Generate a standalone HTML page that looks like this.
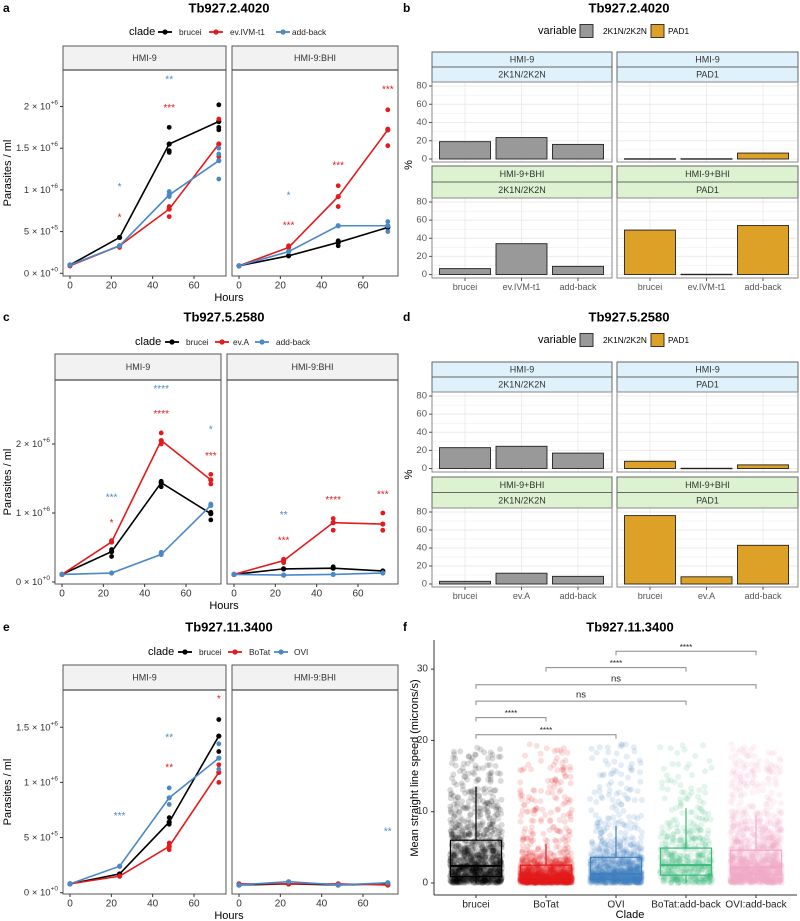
<!DOCTYPE html>
<html><head><meta charset="utf-8"><style>
html,body{margin:0;padding:0;background:#fff;}
svg{display:block;font-family:"Liberation Sans",Arial,sans-serif;}
</style></head><body>
<svg id="fig" width="800" height="921" viewBox="0 0 800 921" xmlns="http://www.w3.org/2000/svg"></svg>
<script>
// ---------- DATA ----------
const times=[0,24,48,72];
// panel a (values ×1e6)
const aHmi9Brucei=[0.10,0.43,1.55,1.82];
const aHmi9Ev=[0.09,0.33,0.77,1.55];
const aHmi9Add=[0.10,0.33,0.94,1.35];
const aBhiBrucei=[0.09,0.21,0.37,0.55];
const aBhiEv=[0.09,0.31,0.92,1.72];
const aBhiAdd=[0.09,0.26,0.57,0.57];
const aHmi9BruceiReps=[[24,0.43],[48,1.75],[48,1.45],[48,1.47],[72,2.02],[72,1.75],[72,1.72]];
const aHmi9EvReps=[[24,0.31],[48,0.68],[48,0.8],[72,1.85],[72,1.4]];
const aHmi9AddReps=[[48,0.98],[48,0.92],[72,1.13],[72,1.43],[72,1.5]];
const aBhiBruceiReps=[[48,0.39],[48,0.33],[72,0.55]];
const aBhiEvReps=[[24,0.33],[48,1.05],[48,0.8],[72,1.96],[72,1.53],[72,1.73]];
const aBhiAddReps=[[72,0.62],[72,0.5]];
const aHmi9Stars=[[24,1.05,'*',2],[24,0.69,'*',1],[48,2.34,'**',2],[48,2.0,'***',1]];
const aBhiStars=[[24,0.95,'*',2],[24,0.59,'***',1],[48,1.31,'***',1],[72,2.22,'***',1]];
const aTickVals=[0,0.5,1,1.5,2];
const aTickMant=['0','5','1','1.5','2'];
const aTickExp=['+0','+5','+6','+6','+6'];
// panel c
const cHmi9Brucei=[0.11,0.44,1.44,0.99];
const cHmi9Ev=[0.11,0.58,2.05,1.48];
const cHmi9Add=[0.11,0.13,0.40,1.11];
const cBhiBrucei=[0.11,0.19,0.20,0.16];
const cBhiEv=[0.11,0.31,0.86,0.84];
const cBhiAdd=[0.11,0.10,0.11,0.13];
const cHmi9BruceiReps=[[24,0.37],[24,0.47],[48,1.46],[48,1.38],[72,1.01],[72,0.9]];
const cHmi9EvReps=[[24,0.6],[48,2.16],[48,2.0],[72,1.56],[72,1.42]];
const cHmi9AddReps=[[48,0.43],[72,1.13]];
const cBhiBruceiReps=[[48,0.22]];
const cBhiEvReps=[[24,0.33],[24,0.28],[48,0.92],[48,0.75],[72,1.0],[72,0.75]];
const cBhiAddReps=[];
const cHmi9Stars=[[24,1.25,'***',2],[24,0.88,'*',1],[48,2.82,'****',2],[48,2.46,'****',1],[72,2.23,'*',2],[72,1.85,'***',1]];
const cBhiStars=[[24,0.99,'**',2],[24,0.62,'***',1],[48,1.21,'****',1],[72,1.29,'***',1]];
const cTickVals=[0,1,2];
const cTickMant=['0','1','2'];
const cTickExp=['+0','+6','+6'];
// panel e
const eHmi9Brucei=[0.08,0.17,0.64,1.42];
const eHmi9BoTat=[0.08,0.15,0.42,1.09];
const eHmi9Ovi=[0.08,0.24,0.86,1.22];
const eBhiBrucei=[0.07,0.08,0.07,0.08];
const eBhiBoTat=[0.08,0.08,0.08,0.07];
const eBhiOvi=[0.07,0.10,0.07,0.09];
const eHmi9BruceiReps=[[48,0.68],[48,0.62],[72,1.57],[72,1.28]];
const eHmi9BoTatReps=[[48,0.45],[48,0.39],[72,1.16],[72,1.0]];
const eHmi9OviReps=[[24,0.24],[48,0.95],[48,0.8],[72,1.35],[72,1.12]];
const eHmi9Stars=[[24,0.71,'***',2],[48,1.42,'**',2],[48,1.15,'**',1],[72,1.77,'*',1]];
const eBhiStars=[[72,0.57,'**',2]];
const eTickVals=[0,0.5,1,1.5];
const eTickMant=['0','5','1','1.5'];
const eTickExp=['+0','+5','+6','+6'];
// panel b / d bars (%)
const bCats=['brucei','ev.IVM-t1','add-back'];
const bHmi9K=[19,23.5,16];
const bHmi9Pad=[0.3,0.3,6.5];
const bBhiK=[6.5,34,9];
const bBhiPad=[49,0.3,54];
const dCats=['brucei','ev.A','add-back'];
const dHmi9K=[23,24.5,17];
const dHmi9Pad=[8,0.3,4];
const dBhiK=[3,12,8.5];
const dBhiPad=[76,8,43];
const barTicks=[0,20,40,60,80];
// panel f
const fCats=['brucei','BoTat','OVI','BoTat:add-back','OVI:add-back'];
const fQ1=[0.9,0.4,0.5,1.1,1.2];
const fMed=[2.4,0.8,1.3,2.5,2.2];
const fQ3=[6.0,2.5,3.6,4.9,4.6];
const fWhiskHi=[13.5,5.5,8.0,10.5,9.5];
const fTicks=[0,10,20,30];
const fBrackets=[[0,2,20.8,'****'],[0,1,23.2,'****'],[0,3,25.5,'ns'],[0,4,27.8,'ns'],[1,3,30.2,'****'],[2,4,32.5,'****']];

// ---------- HELPERS ----------
const NS='http://www.w3.org/2000/svg';
const svg=document.getElementById('fig');
function el(tag,attrs,parent,txt){const e=document.createElementNS(NS,tag);for(const k in attrs)e.setAttribute(k,attrs[k]);if(txt!==undefined)e.textContent=txt;(parent||svg).appendChild(e);return e;}
const COLS=['#000000','#e41a1c','#4a89c6'];
function txt(x,y,s,size,opts,parent,name){
  const t=el('text',Object.assign({x:x,y:y,'font-size':size,fill:'#000','text-anchor':'middle','dominant-baseline':'central'},opts||{}),parent,s);
  
  
  return t;
}
function group(name,parent){const g=el('g',{},parent);return g;}

function legendClade(g,y,items,xs){
  txt(xs[0],y,'clade',11,{'text-anchor':'start'},g,'legend-title');
  for(let i=0;i<items.length;i++){
    const kx=xs[1+i*2];
    const lg=group('legend-entry-'+items[i].toLowerCase().replace(/[^a-z0-9]+/g,'-'),g);
    el('line',{x1:kx-7,x2:kx+7,y1:y,y2:y,stroke:COLS[i],'stroke-width':1.8},lg);
    el('circle',{cx:kx,cy:y,r:2.6,fill:COLS[i]},lg);
    txt(xs[2+i*2],y,items[i],8.3,{'text-anchor':'start',fill:'#222'},lg,'legend-label');
  }
}

function linePanel(cfg){
  const g=group(cfg.name);
  txt(cfg.letterX,cfg.titleY,cfg.letter,12,{'font-weight':'bold','text-anchor':'start'},g,'panel-letter');
  txt(cfg.titleX,cfg.titleY,cfg.title,13,{'font-weight':'bold'},g,'panel-title');
  legendClade(group('legend',g),cfg.legendY,cfg.legendItems,cfg.legendX);
  const yS=v=>cfg.y0-v*cfg.k;
  cfg.facets.forEach((f,fi)=>{
    const fg=group('facet-'+f.label.toLowerCase().replace(/[^a-z0-9]+/g,'-'),g);
    const xS=t=>f.x0+7+t*(124/60);
    el('rect',{x:f.x0,y:cfg.stripTop,width:f.x1-f.x0,height:cfg.stripBot-cfg.stripTop,fill:'#f2f2f2',stroke:'#555','stroke-width':1},fg);
    el('line',{x1:f.x0,x2:f.x1,y1:cfg.stripBot,y2:cfg.stripBot,stroke:'#222','stroke-width':1.2},fg);
    txt((f.x0+f.x1)/2,(cfg.stripTop+cfg.stripBot)/2,f.label,9,{fill:'#333'},fg,'strip-label');
    el('rect',{x:f.x0,y:cfg.stripBot,width:f.x1-f.x0,height:cfg.bottom-cfg.stripBot,fill:'none',stroke:'#555','stroke-width':1},fg);
    [0,20,40,60].forEach(t=>{
      el('line',{x1:xS(t),x2:xS(t),y1:cfg.bottom,y2:cfg.bottom+3,stroke:'#333'},fg);
      txt(xS(t),cfg.bottom+10,String(t),10,{fill:'#333'},fg,'x-tick-label');
    });
    f.series.forEach((s,si)=>{
      const sg=group('series-'+cfg.legendItems[si].toLowerCase().replace(/[^a-z0-9]+/g,'-'),fg);
      el('polyline',{points:times.map((t,i)=>xS(t)+','+yS(s[i])).join(' '),fill:'none',stroke:COLS[si],'stroke-width':1.6},sg);
      times.forEach((t,i)=>{const c=el('circle',{cx:xS(t),cy:yS(s[i]),r:2.6,fill:COLS[si]},sg);});
      (f.reps[si]||[]).forEach(r=>{const c=el('circle',{cx:xS(r[0]),cy:yS(r[1]),r:2.4,fill:COLS[si]},sg);});
    });
    f.stars.forEach(st=>{txt(xS(st[0]),yS(st[1])+2,st[2],10,{fill:COLS[st[3]]},fg,'significance-stars');});
  });
  const f0=cfg.facets[0].x0;
  cfg.tickVals.forEach((v,i)=>{
    el('line',{x1:f0-3,x2:f0,y1:yS(v),y2:yS(v),stroke:'#333'},g);
    const t=txt(f0-5,yS(v),'',9.5,{'text-anchor':'end',fill:'#333'},g,'y-tick-label');
    el('tspan',{},t,cfg.tickMant[i]+' × 10');
    el('tspan',{'font-size':6.5,dy:-4},t,cfg.tickExp[i]);
  });
  const ty=(cfg.stripBot+cfg.bottom)/2;
  txt(8,ty,'Parasites / ml',11,{transform:'rotate(-90 8 '+ty+')'},g,'y-axis-title');
  txt(cfg.titleX,cfg.bottom+22,'Hours',11,{},g,'x-axis-title');
}

linePanel({name:'panel-a',letter:'a',letterX:3,title:'Tb927.2.4020',titleX:229,titleY:8,legendY:32,
  legendItems:['brucei','ev.IVM-t1','add-back'],legendX:[129,165,179,216,230,283,292],
  stripTop:46,stripBot:70,bottom:276,y0:273.3,k:83.4,tickVals:aTickVals,tickMant:aTickMant,tickExp:aTickExp,
  facets:[{label:'HMI-9',x0:63,x1:226,series:[aHmi9Brucei,aHmi9Ev,aHmi9Add],reps:[aHmi9BruceiReps,aHmi9EvReps,aHmi9AddReps],stars:aHmi9Stars},
          {label:'HMI-9:BHI',x0:232,x1:398,series:[aBhiBrucei,aBhiEv,aBhiAdd],reps:[aBhiBruceiReps,aBhiEvReps,aBhiAddReps],stars:aBhiStars}]});
linePanel({name:'panel-c',letter:'c',letterX:3,title:'Tb927.5.2580',titleX:224,titleY:317,legendY:342,
  legendItems:['brucei','ev.A','add-back'],legendX:[135,172,186,222,233,262,276],
  stripTop:354,stripBot:380,bottom:584,y0:582,k:69,tickVals:cTickVals,tickMant:cTickMant,tickExp:cTickExp,
  facets:[{label:'HMI-9',x0:55,x1:221,series:[cHmi9Brucei,cHmi9Ev,cHmi9Add],reps:[cHmi9BruceiReps,cHmi9EvReps,cHmi9AddReps],stars:cHmi9Stars},
          {label:'HMI-9:BHI',x0:227,x1:398,series:[cBhiBrucei,cBhiEv,cBhiAdd],reps:[cBhiBruceiReps,cBhiEvReps,cBhiAddReps],stars:cBhiStars}]});
linePanel({name:'panel-e',letter:'e',letterX:3,title:'Tb927.11.3400',titleX:229,titleY:627,legendY:652,
  legendItems:['brucei','BoTat','OVI'],legendX:[148,185,199,235,249,281,294],
  stripTop:665,stripBot:690,bottom:894,y0:892.7,k:110.3,tickVals:eTickVals,tickMant:eTickMant,tickExp:eTickExp,
  facets:[{label:'HMI-9',x0:63,x1:226,series:[eHmi9Brucei,eHmi9BoTat,eHmi9Ovi],reps:[eHmi9BruceiReps,eHmi9BoTatReps,eHmi9OviReps],stars:eHmi9Stars},
          {label:'HMI-9:BHI',x0:232,x1:398,series:[eBhiBrucei,eBhiBoTat,eBhiOvi],reps:[[],[],[]],stars:eBhiStars}]});

// ---------- BAR PANELS ----------
const GREY='#999999',GOLD='#dea128';
function barPanel(cfg){
  const g=group(cfg.name);
  txt(403,cfg.titleY,cfg.letter,12,{'font-weight':'bold','text-anchor':'start'},g,'panel-letter');
  txt(629,cfg.titleY,cfg.title,13,{'font-weight':'bold'},g,'panel-title');
  const lg=group('legend',g);
  txt(538,cfg.legendY,'variable',11,{'text-anchor':'start'},lg,'legend-title');
  el('rect',{x:580,y:cfg.legendY-6.5,width:13,height:13,fill:GREY,stroke:'#333'},lg);
  txt(603,cfg.legendY,'2K1N/2K2N',8.3,{'text-anchor':'start'},lg,'legend-label');
  el('rect',{x:651,y:cfg.legendY-6.5,width:13,height:13,fill:GOLD,stroke:'#333'},lg);
  txt(668,cfg.legendY,'PAD1',8.3,{'text-anchor':'start'},lg,'legend-label');
  cfg.rows.forEach((r,ri)=>{
    [[432,612,r.k,GREY,'2K1N/2K2N'],[617,798,r.pad,GOLD,'PAD1']].forEach((col,ci)=>{
      const fg=group('facet-'+(ri?'bhi':'hmi9')+'-'+(ci?'pad1':'2k1n'),g);
      const x0=col[0],x1=col[1];
      const sh=(r.plotTop-r.stripTop)/2;
      const sc=ri?'#dcf2d0':'#dff1fa';
      el('rect',{x:x0,y:r.stripTop,width:x1-x0,height:sh,fill:sc,stroke:'#666'},fg);
      el('rect',{x:x0,y:r.stripTop+sh,width:x1-x0,height:sh,fill:sc,stroke:'#666'},fg);
      txt((x0+x1)/2,r.stripTop+sh/2,r.label,9,{fill:'#333'},fg,'strip-label');
      txt((x0+x1)/2,r.stripTop+sh*1.5,col[4],9,{fill:'#333'},fg,'strip-label');
      const yS=v=>r.y0-v*(r.y0-r.y80)/80;
      for(let v=0;v<=80;v+=10)el('line',{x1:x0,x2:x1,y1:yS(v),y2:yS(v),stroke:'#ebebeb','stroke-width':v%20?0.5:0.9},fg);
      const xS=i=>x0+33+i*56.5;
      cfg.cats.forEach((c,i)=>el('line',{x1:xS(i),x2:xS(i),y1:r.plotTop,y2:r.plotBot,stroke:'#ebebeb','stroke-width':0.9},fg));
      col[2].forEach((v,i)=>{
        const b=el('rect',{x:xS(i)-25.5,y:yS(v),width:51,height:Math.max(yS(0)-yS(v),0.5),fill:col[3],stroke:'#222','stroke-width':0.9},fg);
        
        
      });
      el('rect',{x:x0,y:r.plotTop,width:x1-x0,height:r.plotBot-r.plotTop,fill:'none',stroke:'#888'},fg);
      if(ci===0)barTicks.forEach(v=>{
        el('line',{x1:x0-3,x2:x0,y1:yS(v),y2:yS(v),stroke:'#555'},fg);
        txt(x0-5,yS(v),String(v),9.5,{'text-anchor':'end',fill:'#555'},fg,'y-tick-label');
      });
      if(ri===1)cfg.cats.forEach((c,i)=>{
        el('line',{x1:xS(i),x2:xS(i),y1:r.plotBot,y2:r.plotBot+3,stroke:'#555'},fg);
        txt(xS(i),r.plotBot+9,c,9,{fill:'#555'},fg,'x-tick-label');
      });
    });
  });
  const my=(cfg.rows[0].stripTop+cfg.rows[1].plotBot)/2;
  txt(409,my,'%',11,{transform:'rotate(-90 409 '+my+')'},g,'y-axis-title');
}
barPanel({name:'panel-b',letter:'b',title:'Tb927.2.4020',titleY:8,legendY:31,cats:bCats,
  rows:[{label:'HMI-9',stripTop:52,plotTop:82,plotBot:162,y0:159,y80:86,k:bHmi9K,pad:bHmi9Pad},
        {label:'HMI-9+BHI',stripTop:166,plotTop:198,plotBot:278,y0:274.5,y80:202,k:bBhiK,pad:bBhiPad}]});
barPanel({name:'panel-d',letter:'d',title:'Tb927.5.2580',titleY:317,legendY:340,cats:dCats,
  rows:[{label:'HMI-9',stripTop:362,plotTop:392,plotBot:472,y0:468.5,y80:396,k:dHmi9K,pad:dHmi9Pad},
        {label:'HMI-9+BHI',stripTop:477,plotTop:508,plotBot:587,y0:584,y80:512,k:dBhiK,pad:dBhiPad}]});

// ---------- PANEL F ----------
(function(){
  const g=group('panel-f');
  txt(403,627,'f',12,{'font-weight':'bold','text-anchor':'start'},g,'panel-letter');
  txt(630,627,'Tb927.11.3400',13,{'font-weight':'bold'},g,'panel-title');
  const y0=883,k=7.13;const yS=v=>y0-v*k;const xS=i=>476+i*70;
  const fc=['#000000','#e41a1c','#3f7fbf','#3cb878','#f4a7c7'];
  const counts=[1000,1300,900,450,1200];
  let seed=12345;const rnd=()=>{seed=(seed*1103515245+12345)%2147483648;return seed/2147483648;};
  fCats.forEach((c,i)=>{
    const cg=group('jitter-'+c.toLowerCase().replace(/[^a-z0-9]+/g,'-'),g);
    const scale=fMed[i]/0.6931;
    for(let n=0;n<counts[i];n++){
      let v;
      if(rnd()<0.86){v=-scale*Math.log(1-rnd()*0.999);}else{v=rnd()*19.5;}
      if(v>19.8)v=rnd()*19;
      el('circle',{cx:xS(i)+(rnd()-0.5)*52,cy:yS(v),r:3,fill:fc[i],'fill-opacity':0.14},cg);
    }
  });
  fCats.forEach((c,i)=>{
    const bg=group('box-'+c.toLowerCase().replace(/[^a-z0-9]+/g,'-'),g);
    el('line',{x1:xS(i),x2:xS(i),y1:yS(fQ3[i]),y2:yS(fWhiskHi[i]),stroke:fc[i],'stroke-width':1.2},bg);
    el('line',{x1:xS(i),x2:xS(i),y1:yS(fQ1[i]),y2:yS(0),stroke:fc[i],'stroke-width':1.2},bg);
    el('rect',{x:xS(i)-25.5,y:yS(fQ3[i]),width:51,height:yS(fQ1[i])-yS(fQ3[i]),fill:'none',stroke:fc[i],'stroke-width':1.2},bg);
    el('line',{x1:xS(i)-25.5,x2:xS(i)+25.5,y1:yS(fMed[i]),y2:yS(fMed[i]),stroke:fc[i],'stroke-width':2},bg);
  });
  fBrackets.forEach(b=>{
    const bg=group('significance-bracket',g);
    const xa=xS(b[0]),xb=xS(b[1]),y=yS(b[2]),yd=yS(b[2]-0.55);
    el('polyline',{points:`${xa},${yd} ${xa},${y} ${xb},${y} ${xb},${yd}`,fill:'none',stroke:'#888','stroke-width':1},bg);
    txt((xa+xb)/2,y-(b[3]==='ns'?6:4),b[3],b[3]==='ns'?9.5:8,{fill:'#222'},bg,'bracket-label');
  });
  el('line',{x1:434,x2:434,y1:640,y2:895,stroke:'#333'},g);
  el('line',{x1:434,x2:797,y1:895,y2:895,stroke:'#333'},g);
  fTicks.forEach(v=>{
    el('line',{x1:431,x2:434,y1:yS(v),y2:yS(v),stroke:'#333'},g);
    txt(428,yS(v),String(v),10,{'text-anchor':'end',fill:'#333'},g,'y-tick-label');
  });
  fCats.forEach((c,i)=>{
    el('line',{x1:xS(i),x2:xS(i),y1:895,y2:898,stroke:'#333'},g);
    txt(xS(i),905,c,10,{fill:'#222'},g,'x-tick-label');
  });
  txt(630,915,'Clade',11,{},g,'x-axis-title');
  txt(415,768,'Mean straight line speed (microns/s)',11,{transform:'rotate(-90 415 768)'},g,'y-axis-title');
})();
</script>
</body></html>
